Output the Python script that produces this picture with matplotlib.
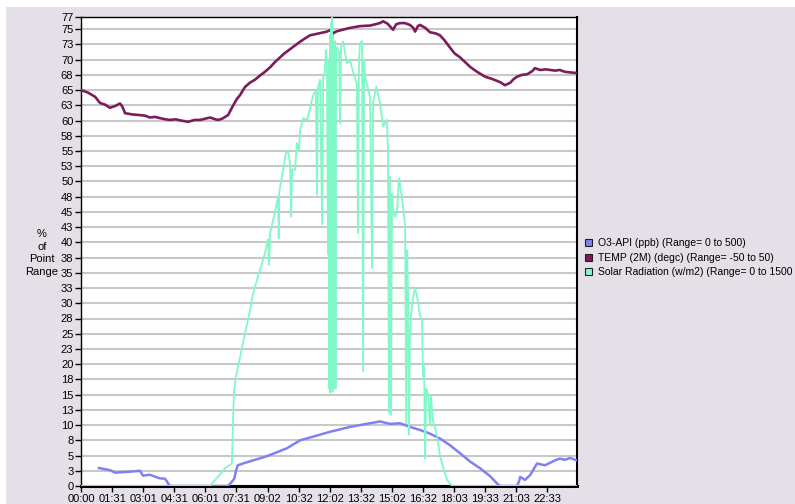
import matplotlib
matplotlib.use("Agg")
import matplotlib.pyplot as plt
from matplotlib.patches import Patch, Rectangle

# ---------------- data (minutes since 00:00, % of point range) ----------------
temp_t = [0, 20, 41, 55, 70, 84, 100, 113, 120, 128, 150, 170, 186, 200, 215, 229, 245, 258,
          275, 290, 311, 330, 346, 360, 375, 390, 398, 410, 427, 441, 452, 462, 476, 490, 505,
          520, 534, 550, 563, 590, 616, 640, 665, 690, 714, 725, 732, 740, 752, 780, 810, 840,
          868, 877, 890, 906, 915, 926, 940, 955, 965, 970, 978, 984, 1000, 1013, 1030, 1042,
          1055, 1071, 1085, 1100, 1115, 1130, 1150, 1173, 1195, 1217, 1231, 1246, 1256, 1266,
          1280, 1295, 1310, 1318, 1333, 1350, 1376, 1390, 1405, 1420, 1440]
temp_v = [65.0, 64.6, 63.9, 62.9, 62.6, 62.1, 62.4, 62.8, 62.3, 61.2, 61.0, 60.9, 60.8, 60.5,
          60.6, 60.4, 60.2, 60.1, 60.2, 60.0, 59.8, 60.1, 60.1, 60.3, 60.5, 60.2, 60.1, 60.3,
          60.9, 62.4, 63.5, 64.2, 65.5, 66.2, 66.7, 67.4, 68.0, 68.8, 69.6, 71.0, 72.1, 73.1,
          74.0, 74.3, 74.6, 74.9, 74.3, 74.6, 74.8, 75.2, 75.5, 75.6, 76.0, 76.3, 75.9, 74.9,
          75.8, 76.0, 76.0, 75.7, 75.2, 74.6, 75.5, 75.7, 75.2, 74.5, 74.3, 74.0, 73.2, 72.0,
          71.0, 70.4, 69.6, 68.8, 68.0, 67.2, 66.8, 66.3, 65.8, 66.2, 66.8, 67.2, 67.5, 67.6,
          68.1, 68.6, 68.3, 68.4, 68.2, 68.3, 68.0, 67.9, 67.8]

o3_t = [52, 84, 99, 142, 171, 180, 200, 229, 244, 258, 300, 350, 400, 427, 435, 445, 450, 455,
        476, 505, 540, 598, 636, 680, 723, 781, 839, 868, 897, 926, 955, 984, 1013, 1042, 1071,
        1100, 1130, 1159, 1188, 1208, 1217, 1266, 1272, 1275, 1289, 1304, 1324, 1347, 1376,
        1390, 1405, 1420, 1440]
o3_v = [2.95, 2.6, 2.2, 2.35, 2.5, 1.7, 1.85, 1.25, 1.2, 0.0, 0.0, 0.0, 0.0, 0.0, 0.5, 1.2, 2.5,
        3.4, 3.8, 4.3, 4.9, 6.2, 7.5, 8.2, 8.9, 9.7, 10.3, 10.6, 10.2, 10.3, 9.7, 9.2, 8.6, 7.8,
        6.7, 5.4, 4.0, 2.9, 1.6, 0.4, 0.0, 0.0, 0.8, 1.5, 1.0, 1.8, 3.7, 3.4, 4.2, 4.5, 4.3,
        4.6, 4.2]

solar_t = [0, 375, 418, 438, 441, 444, 450, 462, 476, 491, 499, 505, 520, 534, 543, 546, 549,
           563, 572, 574, 575, 578, 587, 595, 601, 607, 610, 613, 621, 627, 633, 636, 645, 656,
           665, 674, 682, 685, 688, 694, 700, 703, 708, 711, 714, 717, 720, 721, 723, 724, 726,
           727, 729, 730, 732, 733, 735, 736, 738, 739, 740, 743, 749, 752, 755, 761, 767, 772,
           781, 790, 801, 804, 807, 810, 816, 819, 822, 825, 839, 845, 848, 857, 868, 877, 888,
           891, 894, 897, 900, 903, 906, 912, 918, 923, 926, 935, 941, 944, 947, 950, 952, 955,
           958, 964, 970, 976, 978, 984, 990, 993, 996, 999, 1002, 1008, 1013, 1016, 1022, 1028,
           1034, 1042, 1048, 1057, 1063, 1077, 1440]
solar_v = [0.0, 0.0, 2.9, 3.7, 10.0, 15.3, 18.0, 21.2, 25.0, 28.9, 31.5, 32.7, 35.5, 38.2, 40.5,
           36.3, 41.5, 45.0, 47.5, 40.7, 48.0, 49.1, 52.0, 54.7, 55.0, 53.0, 44.2, 52.0, 51.9,
           56.3, 55.0, 58.4, 60.4, 60.1, 62.0, 64.2, 65.0, 47.8, 65.5, 66.7, 43.0, 67.2, 68.0,
           71.6, 69.0, 38.0, 70.0, 16.0, 74.0, 15.3, 76.0, 17.0, 77.0, 15.5, 74.0, 16.0, 72.0,
           18.0, 73.0, 16.0, 71.0, 72.0, 71.5, 59.6, 72.1, 73.0, 71.0, 69.4, 69.9, 68.0, 66.0,
           41.5, 70.0, 72.7, 73.0, 18.8, 70.0, 67.2, 63.9, 35.8, 63.0, 65.6, 62.9, 59.0, 60.1,
           55.7, 12.0, 50.8, 11.7, 48.0, 45.0, 44.2, 45.3, 50.5, 49.7, 45.9, 42.6, 10.3, 38.7,
           30.0, 8.4, 24.0, 28.0, 31.0, 32.5, 31.0, 30.3, 28.0, 27.3, 18.0, 20.0, 4.5, 16.0,
           15.0, 10.0, 14.7, 10.6, 9.5, 8.1, 5.0, 3.7, 2.0, 1.0, 0.0, 0.0]

x_ticks = [0, 91, 181, 271, 361, 451, 542, 632, 722, 812, 902, 992, 1083, 1173, 1263, 1353]
x_labels = ["00:00", "01:31", "03:01", "04:31", "06:01", "07:31", "09:02", "10:32", "12:02",
            "13:32", "15:02", "16:32", "18:03", "19:33", "21:03", "22:33"]
y_ticks = [0, 2.5, 5, 7.5, 10, 12.5, 15, 17.5, 20, 22.5, 25, 27.5, 30, 32.5, 35, 37.5, 40,
           42.5, 45, 47.5, 50, 52.5, 55, 57.5, 60, 62.5, 65, 67.5, 70, 72.5, 75, 77]
y_labels = ["0", "3", "5", "8", "10", "13", "15", "18", "20", "23", "25", "28", "30", "33", "35",
            "38", "40", "43", "45", "48", "50", "53", "55", "58", "60", "63", "65", "68", "70",
            "73", "75", "77"]

# the reference legend shows the last label cut at the right edge of the picture
series_names = ["O3-API (ppb) (Range= 0 to 500)",
                "TEMP (2M) (degc) (Range= -50 to 50)",
                "Solar Radiation (w/m2) (Range= 0 to 1500"]
series_colors = ["#8080f4", "#7c1c5c", "#80f8c8"]

# ---------------- figure ----------------
plt.rcParams['font.family'] = ['Liberation Sans', 'DejaVu Sans']
W, H = 795, 504
BG = "#e5dfe7"
fig = plt.figure(figsize=(W / 100, H / 100), dpi=100, facecolor=BG)
# thin white margins on the top and left of the picture
fig.patches.append(Rectangle((0, (H - 7) / H), 1, 7 / H, transform=fig.transFigure,
                             facecolor="white", edgecolor="none"))
fig.patches.append(Rectangle((0, 0), 6 / W, 1, transform=fig.transFigure,
                             facecolor="white", edgecolor="none"))

ax = fig.add_axes([81 / W, (H - 486) / H, (577 - 81) / W, (486 - 17) / H])
ax.set_facecolor("white")
ax.set_xlim(0, 1440)
ax.set_ylim(0, 77)

for yv in y_ticks:
    ax.axhline(yv, color="#c8c8c8", lw=1.5, zorder=1)

ax.plot(o3_t, o3_v, color=series_colors[0], lw=1.8, zorder=3)
ax.plot(temp_t, temp_v, color=series_colors[1], lw=1.9, zorder=4)
ax.plot(solar_t, solar_v, color=series_colors[2], lw=1.3, zorder=5)

ax.set_xticks(x_ticks)
ax.set_xticklabels(x_labels, fontsize=8)
ax.set_yticks(y_ticks)
ax.set_yticklabels(y_labels, fontsize=8)
ax.tick_params(axis="both", direction="out", length=4, width=1, colors="black", pad=1.5)

for side in ["left", "top", "right"]:
    ax.spines[side].set_color("black")
    ax.spines[side].set_linewidth(1.0)
ax.spines["right"].set_linewidth(1.5)
ax.spines["bottom"].set_color("black")
ax.spines["bottom"].set_linewidth(2.2)

fig.text(42 / W, 1 - 253 / H, "%\nof\nPoint\nRange", ha="center", va="center",
         fontsize=8, linespacing=1.3)

handles = [Patch(facecolor=c, edgecolor="#202020", linewidth=0.8) for c in series_colors]
leg = fig.legend(handles, series_names, loc="upper left",
                 bbox_to_anchor=(585 / W, 1 - 238 / H), frameon=False, fontsize=7.5,
                 handlelength=0.65, handleheight=0.65, handletextpad=0.55,
                 labelspacing=0.45, borderaxespad=0, borderpad=0)

fig.savefig("out.png", dpi=100, facecolor=fig.get_facecolor())
